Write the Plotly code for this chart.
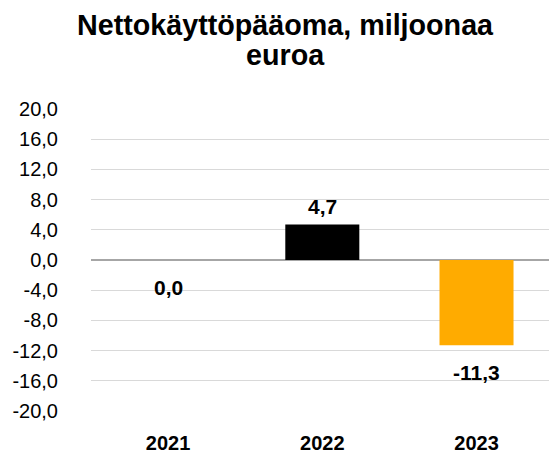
import plotly.graph_objects as go

categories = ["2021", "2022", "2023"]
values = [0.0, 4.7, -11.3]
colors = ["#000000", "#000000", "#FFAB00"]
label_texts = ["0,0", "4,7", "-11,3"]
tick_vals = [-20, -16, -12, -8, -4, 0, 4, 8, 12, 16, 20]
tick_labels = ["-20,0", "-16,0", "-12,0", "-8,0", "-4,0", "0,0", "4,0", "8,0", "12,0", "16,0", "20,0"]
title_lines = ["Nettokäyttöpääoma, miljoonaa", "euroa"]

FONT = "Liberation Sans, Arial, sans-serif"

fig = go.Figure()
fig.add_trace(go.Bar(
    x=categories, y=values, marker=dict(color=colors, line=dict(width=0)),
    width=0.48, hoverinfo="skip"
))

for i, (v, t) in enumerate(zip(values, label_texts)):
    fig.add_annotation(x=i, y=v, xref="x", yref="y", text="<b>%s</b>" % t, showarrow=False,
                       yanchor="middle", yshift=18 if v > 0 else -27,
                       font=dict(family=FONT, size=21, color="#000000"))

for line, py in zip(title_lines, [1.278, 1.1788]):
    fig.add_annotation(xref="paper", yref="paper", x=0.4247, y=py, text="<b>%s</b>" % line,
                       showarrow=False, xanchor="center", yanchor="middle",
                       font=dict(family=FONT, size=28.7, color="#000000"))

fig.update_layout(
    width=549, height=454,
    margin=dict(l=91, r=0, t=109, b=43),
    paper_bgcolor="white", plot_bgcolor="white",
    showlegend=False,
    font=dict(family=FONT, size=20, color="#000000"),
)
fig.update_yaxes(range=[-20, 20], tickvals=tick_vals, ticktext=tick_labels,
                 showgrid=True, gridcolor="#D9D9D9", gridwidth=1.3,
                 zeroline=True, zerolinecolor="#A6A6A6", zerolinewidth=1.5,
                 ticks="", ticklabelstandoff=32, showline=False,
                 tickfont=dict(family=FONT, size=20, color="#000000"))
fig.update_xaxes(type="category", range=[-0.5, 2.47], showgrid=False, showline=False,
                 ticks="", ticklabelstandoff=18,
                 tickfont=dict(family=FONT, size=20, color="#000000", weight="bold"))

fig.write_html("out.html", config={"displayModeBar": False},
               post_script="document.body.style.margin='0';")
